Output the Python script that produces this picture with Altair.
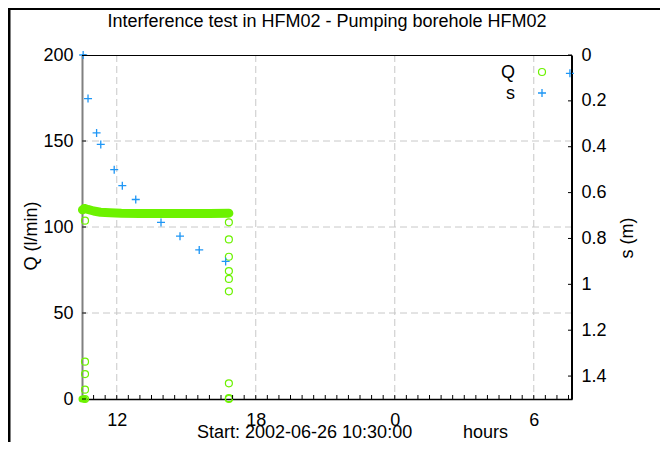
import altair as alt
import pandas as pd

FONT = "Liberation Sans"
GREEN = "#6cf200"
BLUE = "#1e96f5"
GRID = "#c8c8c8"

# ---- data (time in hours since 2002-06-26 00:00) ----
s_time = [10.55, 10.76, 11.13, 11.31, 11.89, 12.24, 12.82, 13.91, 14.73, 15.56, 16.70, 31.56]
s_value = [0.0, 0.19, 0.34, 0.39, 0.50, 0.57, 0.63, 0.73, 0.79, 0.85, 0.90, 0.08]

q_band_time = [10.52, 10.6, 10.75, 11.0, 11.3, 11.7, 12.2, 13.0, 14.0, 15.0, 16.0, 16.84]
q_band_value = [110.0, 110.8, 110.2, 109.3, 108.6, 108.3, 108.0, 107.9, 107.8, 107.8, 107.8, 108.0]

q_zero_time = [10.5, 10.6]
q_zero_value = [0.0, 0.0]

q_circle_time = [10.63] * 5 + [16.84] * 9
q_circle_value = [103.7, 21.7, 14.5, 5.4, 0.0,
                  102.7, 92.8, 82.7, 74.4, 69.8, 62.6, 9.1, 0.5, 0.0]

x_major = [12, 18, 24, 30]
x_minor = [11 + 0.5 * i for i in range(42)]
q_ticks = [0, 50, 100, 150, 200]
q_grid = [50, 100, 150]
s_ticks = [0, 0.2, 0.4, 0.6, 0.8, 1, 1.2, 1.4]

W, H = 490, 344

xs = alt.Scale(domain=[10.5, 31.65], nice=False, zero=False)
qs = alt.Scale(domain=[0, 200], nice=False, zero=False)
ss = alt.Scale(domain=[0, 1.5], reverse=True, nice=False, zero=False)

x_axis = alt.Axis(values=x_major, labelExpr="'' + (datum.value % 24)", grid=False,
                  tickSize=0, domainColor="black", domainWidth=1.5, labelFontSize=18,
                  labelFont=FONT, labelColor="black", labelPadding=12, title=None,
                  orient="bottom")
q_axis = alt.Axis(values=q_ticks, orient="left", grid=False, tickSize=0,
                  domainColor="#808080", domainWidth=2, labelFontSize=18, labelFont=FONT,
                  labelColor="black", labelPadding=9, title=None)
s_axis = alt.Axis(values=s_ticks, orient="right", labelExpr="'' + datum.value", grid=False,
                  tickSize=0, domainColor="black", domainWidth=1, labelFontSize=18,
                  labelFont=FONT, labelColor="black", labelPadding=9, title=None)


def X(f="t"):
    return alt.X(f + ":Q", scale=xs, axis=x_axis)


def YQ():
    return alt.Y("q:Q", scale=qs, axis=q_axis)


def YS():
    return alt.Y("s:Q", scale=ss, axis=s_axis)


one = pd.DataFrame({"a": [0]})

grid_x = alt.Chart(pd.DataFrame({"t": x_major})).mark_rule(
    color=GRID, strokeDash=[7, 4], strokeWidth=1).encode(x=X())
grid_y = alt.Chart(pd.DataFrame({"q": q_grid})).mark_rule(
    color=GRID, strokeDash=[7, 4], strokeWidth=1).encode(y=YQ())

band = alt.Chart(pd.DataFrame({"t": q_band_time, "q": q_band_value})).mark_line(
    color=GREEN, strokeWidth=9, strokeCap="round", strokeJoin="round").encode(x=X(), y=YQ())
zero_blob = alt.Chart(pd.DataFrame({"t": q_zero_time, "q": q_zero_value})).mark_line(
    color=GREEN, strokeWidth=7, strokeCap="round").encode(x=X(), y=YQ())
circles = alt.Chart(pd.DataFrame({"t": q_circle_time, "q": q_circle_value})).mark_point(
    shape="circle", filled=False, color=GREEN, size=49, strokeWidth=1.2, opacity=1).encode(
    x=X(), y=YQ())

x_tick_rules = alt.Chart(pd.DataFrame({"t": x_minor})).mark_rule(
    color="black", strokeWidth=1).encode(x=X(), y=alt.value(H - 4), y2=alt.value(H))
q_tick_rules = alt.Chart(pd.DataFrame({"q": q_ticks})).mark_rule(
    color="black", strokeWidth=1).encode(y=YQ(), x=alt.value(0), x2=alt.value(4))

q_group = alt.layer(grid_x, grid_y, band, zero_blob, circles, x_tick_rules, q_tick_rules)

PLUS = "M-1,0L1,0M0,-1L0,1"
s_points = alt.Chart(pd.DataFrame({"t": s_time, "s": s_value})).mark_point(
    shape=PLUS, filled=False, color=BLUE, size=64, strokeWidth=1.3, opacity=1).encode(
    x=X(), y=YS())
s_tick_rules = alt.Chart(pd.DataFrame({"s": s_ticks})).mark_rule(
    color="black", strokeWidth=1).encode(y=YS(), x=alt.value(W - 4), x2=alt.value(W))

s_group = alt.layer(s_points, s_tick_rules)


def text(txt, x, y, **kw):
    base = dict(font=FONT, fontSize=18, color="black")
    base.update(kw)
    return alt.Chart(one).mark_text(text=txt, **base).encode(x=alt.value(x), y=alt.value(y))


def rule(color, width, **enc):
    return alt.Chart(one).mark_rule(color=color, strokeWidth=width).encode(
        **{k: alt.value(v) for k, v in enc.items()})


decor = [
    text("Interference test in HFM02 - Pumping borehole HFM02", W / 2, -33, baseline="middle"),
    text("Q  (l/min)", -50, 181, angle=270, baseline="middle"),
    text("s  (m)", 546, 183, angle=270, baseline="middle"),
    text("Start: 2002-06-26 10:30:00", 115, 378, align="left", baseline="middle"),
    text("hours", 381, 378, align="left", baseline="middle"),
    text("Q", 433, 23, align="right", baseline="alphabetic"),
    text("s", 433, 44, align="right", baseline="alphabetic"),
    alt.Chart(one).mark_point(shape="circle", filled=False, color=GREEN, size=49,
                              strokeWidth=1.2, opacity=1).encode(
        x=alt.value(460), y=alt.value(17)),
    alt.Chart(one).mark_point(shape=PLUS, filled=False, color=BLUE, size=64,
                              strokeWidth=1.3, opacity=1).encode(
        x=alt.value(460), y=alt.value(38)),
    # plot-area box (top and right edges)
    rule("black", 1, x=0, x2=W, y=0.5),
    rule("black", 1, x=W - 0.5, y=0, y2=H),
    # outer figure frame
    rule("black", 3, x=-73, y=-47, y2=387),
    rule("black", 2, x=-74, x2=578, y=-46),
]

chart = alt.layer(q_group, s_group, *decor).resolve_scale(y="independent").properties(
    width=W, height=H,
    padding={"left": 74, "top": 47, "right": 88, "bottom": 43},
    autosize=alt.AutoSizeParams(type="none"),
    background="white",
).configure(font=FONT).configure_view(stroke=None)

chart.save("out.html", embed_options={"renderer": "svg", "actions": False})
